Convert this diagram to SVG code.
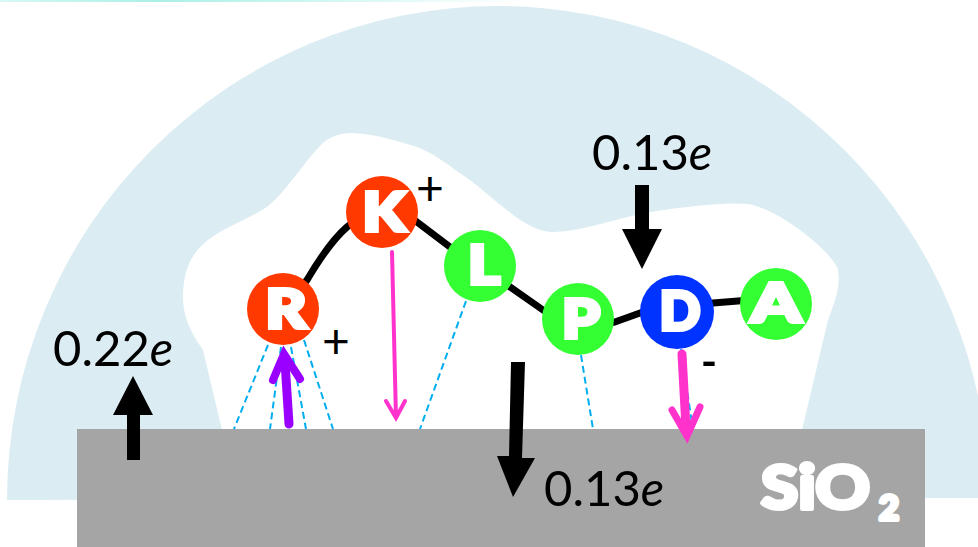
<svg xmlns="http://www.w3.org/2000/svg" width="978" height="547" viewBox="0 0 978 547">
  <defs>
    <linearGradient id="edge" x1="0" y1="0" x2="1" y2="0">
      <stop offset="0" stop-color="#d8f8f4"/>
      <stop offset="0.3" stop-color="#aaf0e6"/>
      <stop offset="1" stop-color="#ffffff"/>
    </linearGradient>
  </defs>
  <style>
    .label { font-family: "Lato", "Liberation Sans", sans-serif; font-size: 49px; fill: #000; }
    .label tspan { font-style: italic; }
    .charge { font-family: "Lato", "Liberation Sans", sans-serif; fill: #000; text-anchor: middle; }
    .residue { font-family: "Lato", "Liberation Sans", sans-serif; font-weight: 900; font-size: 54px; fill: #fff; stroke: #fff; stroke-width: 4px; stroke-linejoin: miter; text-anchor: middle; }
    .substrate { font-family: "Lato", "Liberation Sans", sans-serif; font-weight: 900; fill: #fff; stroke: #fff; stroke-width: 4px; stroke-linejoin: round; }
    .basic { fill: #ff3900; }
    .neutral { fill: #33ff33; }
    .acidic { fill: #0033ff; }
    .backbone { fill: none; stroke: #000; stroke-width: 7; }
    .contact { fill: none; stroke: #00aeef; stroke-width: 2; stroke-dasharray: 7 4; }
    .dipole { fill: none; stroke-linecap: round; stroke-linejoin: miter; }
  </style>

  <!-- faint edge along the top -->
  <rect x="0" y="0" width="520" height="2" fill="url(#edge)"/>

  <!-- water shell with the protein cavity cut out -->
  <path id="shell" fill="#dbedf3" fill-rule="evenodd" d="M7 500 A491 494 0 0 1 989 500 L978 498 L7 500 Z M222 430 L203 350 C190 332 183 315 183 298 C183 272 190 254 208 240 C226 226 252 218 268 206 C288 190 305 160 323 143 C333 134 345 133 353 133 C375 134 398 141 417 147 C438 155 450 167 467 178 C495 198 525 232 552 232 C580 232 610 220 650 212 C690 206 725 202 748 204 C775 208 825 245 837 267 C843 285 832 308 828 320 L802 430 Z"/>

  <!-- silica slab -->
  <rect id="slab" x="77" y="429" width="848" height="118" fill="#a5a5a5"/>
  <text class="substrate" font-size="60" x="761" y="509" textLength="109" lengthAdjust="spacingAndGlyphs">SiO</text>
  <text class="substrate" font-size="34" x="879" y="520" textLength="20" lengthAdjust="spacingAndGlyphs">2</text>

  <!-- connectors -->
  <g id="connectors">
    <path class="backbone" d="M284 310 L307 280 C320 258 332 240 347 227 L382 200"/>
    <path class="backbone" d="M407 214 L417 222 L450 247 L460 255"/>
    <path class="backbone" d="M500 280 L543 310 L552 316"/>
    <path class="backbone" d="M600 326 L615 322 L640 313 L655 308"/>
    <path class="backbone" d="M700 305 L713 303 L738 301 L750 300"/>
    <path class="contact" d="M268 345 L234 429 M281 347 L270 429 M291 347 L306 429 M304 340 L333 429 M466 301 L420 429 M581 355 L593 429 M681 349 L693 430"/>

    <path class="dipole" stroke="#ff33cc" stroke-width="4" d="M392 252 L396 418 M386 401 L396 418 L405 401"/>
    <path class="dipole" stroke="#ff33cc" stroke-width="9" stroke-linecap="butt" d="M682 354 L686 428"/>
    <path class="dipole" stroke="#ff33cc" stroke-width="7" d="M672 410 L687 436 L700 407"/>
    <path class="dipole" stroke="#9900ff" stroke-width="9" stroke-linecap="butt" d="M289 424 L285 362"/>
    <path class="dipole" stroke="#9900ff" stroke-width="8" d="M273 380 L284 354 L300 379"/>

    <path fill="#000" d="M127 460 H140 V415 H153 L133 376 L113 415 H127 Z"/>
    <path fill="#000" d="M635 185 H649 V229 H662 L642 269 L622 229 H635 Z"/>
    <path fill="#000" d="M511 362 H525 L522 458 H535 L513 497 L497 456 H509 Z"/>
  </g>

  <!-- residues -->
  <g id="R"><circle class="basic" cx="283" cy="309" r="36"/><text class="residue" x="286" y="328" textLength="41" lengthAdjust="spacingAndGlyphs">R</text></g>
  <g id="K"><circle class="basic" cx="382" cy="212" r="36"/><text class="residue" x="384" y="231" textLength="43" lengthAdjust="spacingAndGlyphs">K</text></g>
  <g id="L"><circle class="neutral" cx="480" cy="266" r="36"/><text class="residue" x="484" y="284" textLength="32" lengthAdjust="spacingAndGlyphs">L</text></g>
  <g id="P"><circle class="neutral" cx="578" cy="319" r="36"/><text class="residue" x="581" y="338" textLength="38" lengthAdjust="spacingAndGlyphs">P</text></g>
  <g id="D"><circle class="acidic" cx="677" cy="312" r="37"/><text class="residue" x="680" y="330" textLength="41" lengthAdjust="spacingAndGlyphs">D</text></g>
  <g id="A"><circle class="neutral" cx="776" cy="304" r="36"/><text class="residue" x="776" y="322" textLength="50" lengthAdjust="spacingAndGlyphs">A</text></g>

  <!-- charges and labels -->
  <text class="charge" font-size="48" x="430" y="205">+</text>
  <text class="charge" font-size="48" x="336" y="358">+</text>
  <text class="charge" font-size="58" x="709" y="381" textLength="17" lengthAdjust="spacingAndGlyphs">-</text>
  <text class="label" x="592" y="170">0.13<tspan>e</tspan></text>
  <text class="label" x="53" y="366">0.22<tspan>e</tspan></text>
  <text class="label" x="544" y="506">0.13<tspan>e</tspan></text>
</svg>
